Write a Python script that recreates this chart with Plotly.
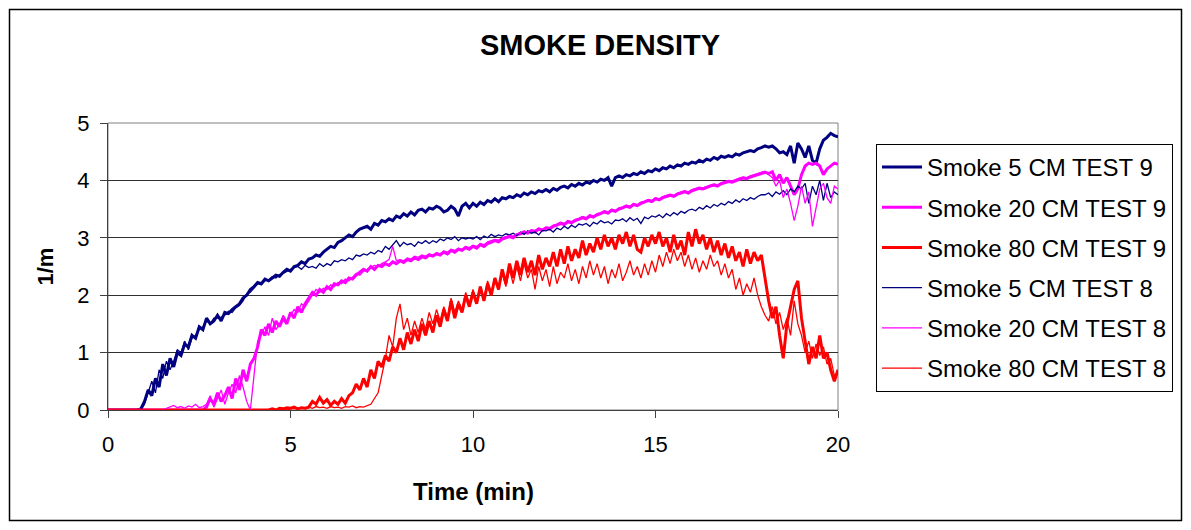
import plotly.graph_objects as go

# time axis (min), one reading every 0.1 min
TIME = [
    0.0, 0.1, 0.2, 0.3, 0.4, 0.5, 0.6, 0.7, 0.8, 0.9,
    1.0, 1.1, 1.2, 1.3, 1.4, 1.5, 1.6, 1.7, 1.8, 1.9,
    2.0, 2.1, 2.2, 2.3, 2.4, 2.5, 2.6, 2.7, 2.8, 2.9,
    3.0, 3.1, 3.2, 3.3, 3.4, 3.5, 3.6, 3.7, 3.8, 3.9,
    4.0, 4.1, 4.2, 4.3, 4.4, 4.5, 4.6, 4.7, 4.8, 4.9,
    5.0, 5.1, 5.2, 5.3, 5.4, 5.5, 5.6, 5.7, 5.8, 5.9,
    6.0, 6.1, 6.2, 6.3, 6.4, 6.5, 6.6, 6.7, 6.8, 6.9,
    7.0, 7.1, 7.2, 7.3, 7.4, 7.5, 7.6, 7.7, 7.8, 7.9,
    8.0, 8.1, 8.2, 8.3, 8.4, 8.5, 8.6, 8.7, 8.8, 8.9,
    9.0, 9.1, 9.2, 9.3, 9.4, 9.5, 9.6, 9.7, 9.8, 9.9,
    10.0, 10.1, 10.2, 10.3, 10.4, 10.5, 10.6, 10.7, 10.8, 10.9,
    11.0, 11.1, 11.2, 11.3, 11.4, 11.5, 11.6, 11.7, 11.8, 11.9,
    12.0, 12.1, 12.2, 12.3, 12.4, 12.5, 12.6, 12.7, 12.8, 12.9,
    13.0, 13.1, 13.2, 13.3, 13.4, 13.5, 13.6, 13.7, 13.8, 13.9,
    14.0, 14.1, 14.2, 14.3, 14.4, 14.5, 14.6, 14.7, 14.8, 14.9,
    15.0, 15.1, 15.2, 15.3, 15.4, 15.5, 15.6, 15.7, 15.8, 15.9,
    16.0, 16.1, 16.2, 16.3, 16.4, 16.5, 16.6, 16.7, 16.8, 16.9,
    17.0, 17.1, 17.2, 17.3, 17.4, 17.5, 17.6, 17.7, 17.8, 17.9,
    18.0, 18.1, 18.2, 18.3, 18.4, 18.5, 18.6, 18.7, 18.8, 18.9,
    19.0, 19.1, 19.2, 19.3, 19.4, 19.5, 19.6, 19.7, 19.8, 19.9,
    20.0,
]

smoke5_t9 = [
    0, 0, 0, 0, 0, 0, 0, 0, 0, 0.02,
    0.15, 0.35, 0.25, 0.55, 0.4, 0.8, 0.6, 0.9, 0.75, 1.0,
    0.95, 1.15, 1.1, 1.3, 1.25, 1.45, 1.4, 1.6, 1.5, 1.55,
    1.65, 1.55, 1.7, 1.68, 1.75, 1.8, 1.85, 1.95, 2.0, 2.1,
    2.15, 2.22, 2.2, 2.28, 2.25, 2.3, 2.35, 2.33, 2.4, 2.45,
    2.42, 2.5, 2.52, 2.58, 2.55, 2.63, 2.65, 2.7, 2.68, 2.75,
    2.8, 2.85, 2.83, 2.92, 2.95, 3.0, 3.05, 3.02, 3.1, 3.15,
    3.17, 3.2, 3.15, 3.25, 3.22, 3.3, 3.28, 3.33, 3.3, 3.38,
    3.35, 3.42, 3.38, 3.45, 3.4, 3.48, 3.5, 3.45, 3.52, 3.5,
    3.55, 3.52, 3.45, 3.48, 3.55, 3.5, 3.38, 3.55, 3.6, 3.52,
    3.6, 3.55, 3.62, 3.58, 3.65, 3.62, 3.68, 3.63, 3.7, 3.68,
    3.72, 3.7, 3.75, 3.72, 3.78, 3.75, 3.8, 3.77, 3.82, 3.8,
    3.84, 3.8, 3.86, 3.83, 3.88, 3.9, 3.87, 3.93, 3.9, 3.95,
    3.92, 3.97, 3.95, 4.0, 3.97, 4.02, 4.0, 4.05, 3.9, 4.05,
    4.08, 4.05, 4.1, 4.08, 4.12, 4.1, 4.15, 4.12, 4.17, 4.15,
    4.2, 4.17, 4.22, 4.2, 4.25, 4.22, 4.27, 4.25, 4.3, 4.28,
    4.32, 4.3, 4.35, 4.32, 4.37, 4.35, 4.4, 4.37, 4.42, 4.4,
    4.43, 4.41, 4.46, 4.44, 4.48, 4.5, 4.52, 4.5, 4.55, 4.57,
    4.6, 4.58, 4.6, 4.55, 4.48, 4.5, 4.45, 4.6, 4.3, 4.65,
    4.55, 4.4, 4.6, 4.35, 4.3, 4.55, 4.7, 4.75, 4.82, 4.78,
    4.76,
]

smoke20_t9 = [
    0, 0, 0, 0, 0, 0, 0, 0, 0, 0,
    0, 0, 0, 0, 0, 0, 0, 0, 0, 0,
    0, 0, 0, 0, 0, 0, 0, 0.05, 0.2, 0.1,
    0.3, 0.15, 0.25, 0.4, 0.2, 0.55, 0.35, 0.7, 0.5, 0.8,
    0.9, 1.1, 1.4, 1.3, 1.5, 1.35, 1.55, 1.45, 1.6, 1.5,
    1.7, 1.6, 1.8, 1.7, 1.85, 1.95, 2.05, 2.0, 2.1, 2.05,
    2.15, 2.1, 2.2, 2.18, 2.25, 2.22, 2.3, 2.28, 2.35, 2.4,
    2.45, 2.42, 2.5, 2.45, 2.52, 2.5, 2.55, 2.52, 2.58, 2.55,
    2.6, 2.57, 2.62, 2.6, 2.65, 2.62, 2.67, 2.65, 2.7, 2.68,
    2.72, 2.7, 2.75, 2.72, 2.78, 2.75, 2.8, 2.78, 2.83, 2.8,
    2.85, 2.82, 2.88, 2.85, 2.9, 2.92, 2.95, 2.93, 2.98, 3.0,
    3.02, 3.0, 3.05, 3.07, 3.1, 3.08, 3.12, 3.1, 3.15, 3.13,
    3.17, 3.15, 3.2, 3.22, 3.25, 3.23, 3.28, 3.26, 3.3, 3.32,
    3.35, 3.33, 3.38, 3.36, 3.4, 3.42, 3.45, 3.43, 3.48, 3.46,
    3.5, 3.52, 3.55, 3.53, 3.58, 3.56, 3.6, 3.62, 3.65, 3.63,
    3.68, 3.66, 3.7, 3.72, 3.74, 3.72, 3.76, 3.78, 3.8, 3.78,
    3.82, 3.84, 3.86, 3.85, 3.88, 3.9, 3.92, 3.9, 3.94, 3.96,
    3.98, 3.97, 4.0, 4.02, 4.04, 4.03, 4.06, 4.08, 4.1, 4.12,
    4.14, 4.12, 4.15, 4.0, 4.1, 3.95, 4.05, 3.9, 3.75, 3.85,
    4.1, 4.25, 4.3, 4.28, 4.3, 4.25, 4.1, 4.2, 4.25, 4.3,
    4.28,
]

smoke80_t9 = [
    0, 0, 0, 0, 0, 0, 0, 0, 0, 0,
    0, 0, 0, 0, 0, 0, 0, 0, 0, 0,
    0, 0, 0, 0, 0, 0, 0, 0, 0, 0,
    0, 0, 0, 0, 0, 0, 0, 0, 0, 0,
    0, 0, 0, 0, 0, 0.02, 0, 0.03, 0.02, 0.04,
    0.03, 0.05, 0.02, 0.04, 0.03, 0.05, 0.15, 0.1, 0.22, 0.12,
    0.18, 0.08, 0.15, 0.1, 0.2, 0.12, 0.25, 0.3, 0.45, 0.35,
    0.55, 0.4, 0.7, 0.55, 0.85, 0.75, 0.95, 0.85, 1.1, 1.0,
    1.25, 1.05, 1.35, 1.15, 1.4, 1.2, 1.5, 1.3, 1.55, 1.35,
    1.65, 1.45, 1.75, 1.55, 1.9, 1.6, 1.85, 1.7, 2.0, 1.8,
    2.05, 1.85, 2.15, 1.9, 2.2, 2.0, 2.3, 2.1, 2.45, 2.2,
    2.55, 2.3, 2.6, 2.35, 2.65, 2.4, 2.6, 2.35, 2.7, 2.45,
    2.65, 2.5, 2.75, 2.5, 2.8, 2.55, 2.85, 2.6, 2.8, 2.65,
    2.95, 2.7, 2.9, 2.75, 3.0, 2.8, 3.05, 2.85, 3.0, 2.8,
    3.05, 2.9, 3.1, 2.85, 3.05, 2.8, 2.75, 3.0, 2.85, 3.05,
    2.9, 3.1, 2.85, 3.0, 2.75, 3.05, 2.8, 2.95, 2.7, 3.1,
    2.85, 3.15, 2.9, 3.05, 2.8, 3.0, 2.75, 2.95, 2.7, 2.9,
    2.65, 2.85, 2.6, 2.75, 2.5, 2.8, 2.55, 2.75, 2.6, 2.7,
    2.3, 1.9, 1.6, 1.8, 1.3, 0.9, 1.5, 1.8, 2.1, 2.25,
    1.6, 1.2, 0.8, 1.1, 0.9, 1.3, 0.9, 1.0, 0.7, 0.5,
    0.7,
]

smoke5_t8 = [
    0, 0, 0, 0, 0, 0, 0, 0, 0, 0,
    0.1, 0.3, 0.5, 0.3, 0.7, 0.55, 0.85, 0.7, 0.85, 1.05,
    1.0, 1.2, 1.05, 1.25, 1.3, 1.4, 1.45, 1.55, 1.5, 1.6,
    1.6, 1.62, 1.65, 1.72, 1.7, 1.78, 1.82, 1.9, 2.02, 2.05,
    2.12, 2.2, 2.18, 2.25, 2.27, 2.32, 2.3, 2.36, 2.38, 2.42,
    2.45, 2.48, 2.5, 2.45, 2.52, 2.48, 2.5, 2.47, 2.55, 2.5,
    2.55, 2.52, 2.6, 2.58, 2.62, 2.6, 2.65, 2.62, 2.7, 2.68,
    2.72, 2.7, 2.75, 2.72, 2.78, 2.75, 2.85, 2.8, 2.88, 2.95,
    2.85, 2.92, 2.88, 2.9, 2.85, 2.93, 2.9, 2.95, 2.9, 2.95,
    2.92, 2.98, 2.95, 3.0, 2.97, 3.02, 2.95, 3.0, 2.98, 3.0,
    2.98, 3.02, 2.97, 3.03, 3.0, 3.06, 3.02, 3.05, 3.03, 3.07,
    3.05, 3.08, 3.04, 3.1, 3.06, 3.12, 3.08, 3.1, 3.05, 3.13,
    3.12, 3.15, 3.1, 3.17, 3.14, 3.2, 3.16, 3.22, 3.18, 3.24,
    3.22, 3.25, 3.2, 3.27, 3.24, 3.3, 3.26, 3.28, 3.24, 3.31,
    3.3, 3.33, 3.28, 3.35, 3.3, 3.34, 3.25, 3.36, 3.33, 3.38,
    3.36, 3.4, 3.35, 3.42, 3.38, 3.44, 3.4, 3.46, 3.43, 3.48,
    3.5, 3.47, 3.53, 3.5, 3.56, 3.52, 3.58, 3.55, 3.6, 3.57,
    3.63, 3.6, 3.66, 3.62, 3.68, 3.65, 3.7, 3.67, 3.72, 3.75,
    3.75, 3.78, 3.72, 3.8, 3.76, 3.82, 3.75, 3.85, 3.8, 3.9,
    3.85, 3.95, 3.6, 3.9, 3.75, 4.0, 3.65, 3.95, 3.7, 3.8,
    3.75,
]

smoke20_t8 = [
    0, 0, 0, 0, 0, 0, 0, 0, 0, 0,
    0, 0, 0, 0, 0, 0, 0.03, 0.05, 0.08, 0.04,
    0.06, 0.03, 0.07, 0.05, 0.1, 0.04, 0.06, 0.1, 0.25, 0.05,
    0.2, 0.35, 0.1, 0.3, 0.45, 0.3, 0.6, 0.4, 0.15, 0.0,
    0.6, 1.2, 1.3, 1.45, 1.3, 1.6, 1.4, 1.5, 1.65, 1.55,
    1.65, 1.75, 1.7, 1.85, 1.8, 1.9, 2.0, 2.1, 2.05, 2.12,
    2.1, 2.18, 2.15, 2.22, 2.2, 2.28, 2.25, 2.32, 2.38, 2.35,
    2.42, 2.45, 2.48, 2.52, 2.5, 2.55, 2.58, 2.62, 2.85, 2.6,
    2.62, 2.6, 2.65, 2.63, 2.68, 2.66, 2.7, 2.68, 2.72, 2.7,
    2.74, 2.72, 2.77, 2.75, 2.8, 2.78, 2.82, 2.8, 2.85, 2.83,
    2.87, 2.85, 2.9, 2.88, 2.93, 2.95, 2.97, 2.96, 3.0, 3.02,
    3.04, 3.03, 3.07, 3.09, 3.12, 3.1, 3.14, 3.13, 3.17, 3.15,
    3.19, 3.18, 3.22, 3.24, 3.27, 3.25, 3.3, 3.28, 3.32, 3.34,
    3.37, 3.35, 3.4, 3.38, 3.42, 3.44, 3.47, 3.45, 3.5, 3.48,
    3.52, 3.54, 3.57, 3.55, 3.6, 3.58, 3.62, 3.64, 3.67, 3.65,
    3.7, 3.68, 3.72, 3.74, 3.76, 3.74, 3.78, 3.8, 3.82, 3.8,
    3.84, 3.86, 3.88, 3.87, 3.9, 3.92, 3.94, 3.92, 3.96, 3.98,
    4.0, 3.99, 4.02, 4.04, 4.06, 4.05, 4.08, 4.1, 4.12, 4.14,
    4.16, 4.1, 4.05, 3.9, 4.0, 3.7, 3.85, 3.6, 3.3, 3.55,
    3.9, 3.6, 3.8, 3.2, 3.5, 3.85, 3.95, 3.7, 3.6, 3.9,
    3.85,
]

smoke80_t8 = [
    0, 0, 0, 0, 0, 0, 0, 0, 0, 0,
    0, 0, 0, 0, 0, 0, 0, 0, 0, 0,
    0, 0, 0, 0, 0, 0, 0, 0, 0, 0,
    0, 0, 0, 0, 0, 0, 0, 0, 0, 0,
    0, 0, 0, 0, 0, 0, 0, 0, 0, 0,
    0.02, 0.03, 0.02, 0.04, 0.02, 0.05, 0.03, 0.06, 0.04, 0.05,
    0.03, 0.06, 0.04, 0.05, 0.03, 0.06, 0.05, 0.07, 0.04, 0.06,
    0.05, 0.08, 0.1, 0.2, 0.3, 0.6, 0.9, 1.3, 1.1, 1.6,
    1.85, 1.4, 1.6, 1.3, 1.55, 1.35, 1.6, 1.4, 1.7, 1.5,
    1.75, 1.55, 1.8, 1.6, 1.95, 1.7, 1.9, 1.75, 2.05, 1.85,
    2.1, 1.9, 2.15, 1.95, 2.25, 2.05, 2.3, 2.1, 2.4, 2.15,
    2.45, 2.2, 2.5, 2.25, 2.55, 2.3, 2.45, 2.1, 2.5, 2.25,
    2.45, 2.15, 2.5, 2.2, 2.4, 2.3, 2.55, 2.25, 2.45, 2.2,
    2.5, 2.3, 2.6, 2.35, 2.55, 2.3, 2.5, 2.2, 2.45, 2.3,
    2.55, 2.25, 2.4, 2.6, 2.35, 2.5, 2.3, 2.55, 2.35, 2.6,
    2.4, 2.7, 2.5, 2.75, 2.55, 2.8, 2.6, 2.75, 2.5, 2.7,
    2.45, 2.65, 2.4, 2.6, 2.45, 2.7, 2.5, 2.6, 2.35, 2.55,
    2.3, 2.45, 2.1, 2.3, 2.0, 2.2, 2.05, 2.3, 2.0, 1.8,
    1.65, 1.55, 1.8, 1.5, 1.7, 1.4, 1.6, 1.3, 1.9, 1.5,
    1.3, 1.0, 1.2, 0.9, 1.15, 0.95, 1.1, 0.8, 0.9, 0.6,
    0.65,
]

NAVY = '#000080'
MAGENTA = '#FF00FF'
RED = '#FF0000'
FONT = 'Arial, Liberation Sans, sans-serif'

series = [
    ('Smoke 5 CM TEST 9', smoke5_t9, NAVY, 3),
    ('Smoke 20 CM TEST 9', smoke20_t9, MAGENTA, 3),
    ('Smoke 80 CM TEST 9', smoke80_t9, RED, 3),
    ('Smoke 5 CM TEST 8', smoke5_t8, NAVY, 1.3),
    ('Smoke 20 CM TEST 8', smoke20_t8, MAGENTA, 1.3),
    ('Smoke 80 CM TEST 8', smoke80_t8, RED, 1.3),
]

fig = go.Figure()
for name, vals, color, width in series:
    fig.add_trace(go.Scatter(
        x=TIME, y=vals, name=name, mode='lines', legendgroup=name,
        line=dict(color=color, width=width)
    ))

# page body has an 8px margin on every side, so the figure is shrunk to fit
OFF = 8
W, H = 1191 - 2 * OFF, 530 - 2 * OFF
# plot area in reference (page) px
L, R, T, B = 108, 838, 123, 410
pw, ph = R - L, B - T

def px(xp):
    return (xp - L) / pw

def py(yp):
    return (B - yp) / ph

fig.update_layout(
    width=W, height=H, autosize=False,
    margin=dict(l=L - OFF, r=W - (R - OFF), t=T - OFF, b=H - (B - OFF), autoexpand=False),
    paper_bgcolor='white', plot_bgcolor='white',
    font=dict(family=FONT, color='black'),
    title=dict(text='<b>SMOKE DENSITY</b>', font=dict(size=29, family=FONT),
               x=(600 - OFF) / W, xanchor='center', y=1 - (45 - OFF) / H, yanchor='middle'),
    legend=dict(x=px(876), y=py(144), xanchor='left', yanchor='top',
                bordercolor='black', borderwidth=1, bgcolor='white',
                font=dict(size=24, family=FONT), tracegroupgap=6, itemwidth=40),
    showlegend=True,
)

fig.update_xaxes(range=[0, 20], tickvals=[0, 5, 10, 15, 20],
                 ticks='outside', ticklen=7, tickcolor='#404040',
                 showline=True, linecolor='#404040', linewidth=1,
                 showgrid=False, zeroline=False,
                 tickfont=dict(size=22), ticklabelstandoff=8)
fig.update_yaxes(range=[0, 5], tickvals=[0, 1, 2, 3, 4, 5],
                 ticks='outside', ticklen=7, tickcolor='#404040',
                 showline=True, linecolor='#404040', linewidth=1,
                 showgrid=True, gridcolor='#303030', gridwidth=1, zeroline=False,
                 tickfont=dict(size=22), ticklabelstandoff=6)

# axis titles placed as annotations
fig.add_annotation(text='<b>Time (min)</b>', xref='paper', yref='paper',
                   x=0.5, y=py(491), xanchor='center', yanchor='middle',
                   showarrow=False, font=dict(size=24))
fig.add_annotation(text='<b>1/m</b>', xref='paper', yref='paper',
                   x=px(45), y=0.5, xanchor='center', yanchor='middle',
                   textangle=-90, showarrow=False, font=dict(size=22))

# plot area frame (grey) and outer chart border (kept just inside the figure)
fig.add_shape(type='rect', xref='paper', yref='paper', x0=0, x1=1, y0=0, y1=1,
              line=dict(color='#808080', width=1), layer='below')
fig.add_shape(type='rect', xref='paper', yref='paper',
              x0=px(9.5), x1=px(1181.5), y0=py(520.5), y1=py(9.5),
              line=dict(color='black', width=1.5))

fig.write_html('out.html')
